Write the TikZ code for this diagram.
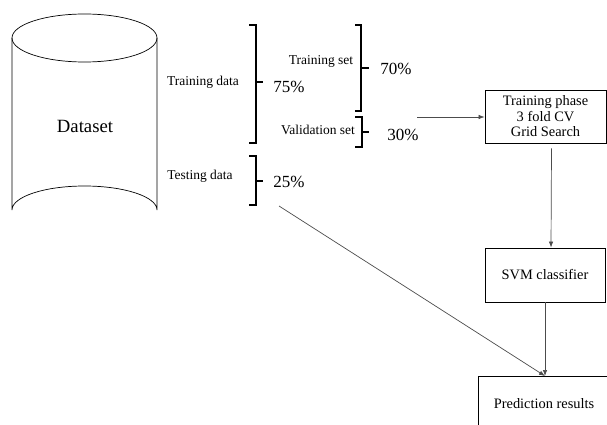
\documentclass[tikz,border=0pt]{standalone}
\usepackage{fontspec}
\setmainfont{Liberation Serif}
\usetikzlibrary{arrows.meta,calc}
\begin{document}
\begin{tikzpicture}[x=1pt,y=-1pt,
  box/.style={draw,line width=0.8pt,minimum width=121pt,minimum height=53pt,inner sep=0pt,font=\fontsize{14.4}{15.5}\selectfont,align=center},
  lbl/.style={font=\fontsize{13.5}{15}\selectfont,inner sep=0pt},
  pct/.style={font=\fontsize{17}{19}\selectfont,inner sep=0pt},
  brk/.style={line width=1.6pt},
  arr/.style={draw=black!70,line width=0.7pt,-{Latex[length=6pt,width=4.5pt]}}]
\useasboundingbox (0,0) rectangle (607,425);
\clip (0,0) rectangle (607,425);
% cylinder
\draw[line width=0.7pt] (12,38) -- (12,210) arc[start angle=180,end angle=360,x radius=72.5,y radius=24] -- (157,38);
\draw[line width=0.7pt] (84.5,38) ellipse [x radius=72.5,y radius=24];
\node[font=\fontsize{18.7}{20}\selectfont,inner sep=0pt] (ds) at (85,126) {Dataset};
% brackets
\draw[brk] (249,25) -- (256,25) -- (256,143) -- (249,143);
\draw[brk] (256,82) -- (263,82);
\draw[brk] (355,25) -- (361,25) -- (361,111) -- (355,111);
\draw[brk] (361,68) -- (369,68);
\draw[brk] (355,117) -- (362,117) -- (362,147) -- (355,147);
\draw[brk] (362,132) -- (369,132);
\draw[brk] (249,156) -- (256,156) -- (256,205) -- (249,205);
\draw[brk] (256,181) -- (263,181);
% labels
\node[lbl] (ltd) at (203,82) {Training data};
\node[pct] (p75) at (289,87) {75\%};
\node[lbl] (lts) at (321,61) {Training set};
\node[pct] (p70) at (396,69) {70\%};
\node[lbl] (lvs) at (318,130) {Validation set};
\node[pct] (p30) at (403,135) {30\%};
\node[lbl] (lte) at (200,176) {Testing data};
\node[pct] (p25) at (289,182) {25\%};
% boxes
\node[box] (train) at (545.5,116.5) {Training phase\\3 fold CV\\Grid Search};
\node[box,minimum height=54pt,minimum width=120pt] (svm) at (545,275) {SVM classifier};
\node[box,anchor=north,minimum width=132pt,minimum height=54pt] (pred) at (544,376) {Prediction results};
% arrows
\coordinate (a0) at (417,117);
\draw[arr] (a0) -- (a0 -| train.west);
\draw[arr] ($(train.south)+(6,5)$) -- ($(svm.north)+(6,0)$);
\draw[arr] (svm.south) -- (svm.south |- pred.north);
\coordinate (d0) at (279,206);
\draw[arr] (d0) -- ($(pred.north)+(1,0)$);
\end{tikzpicture}
\end{document}
